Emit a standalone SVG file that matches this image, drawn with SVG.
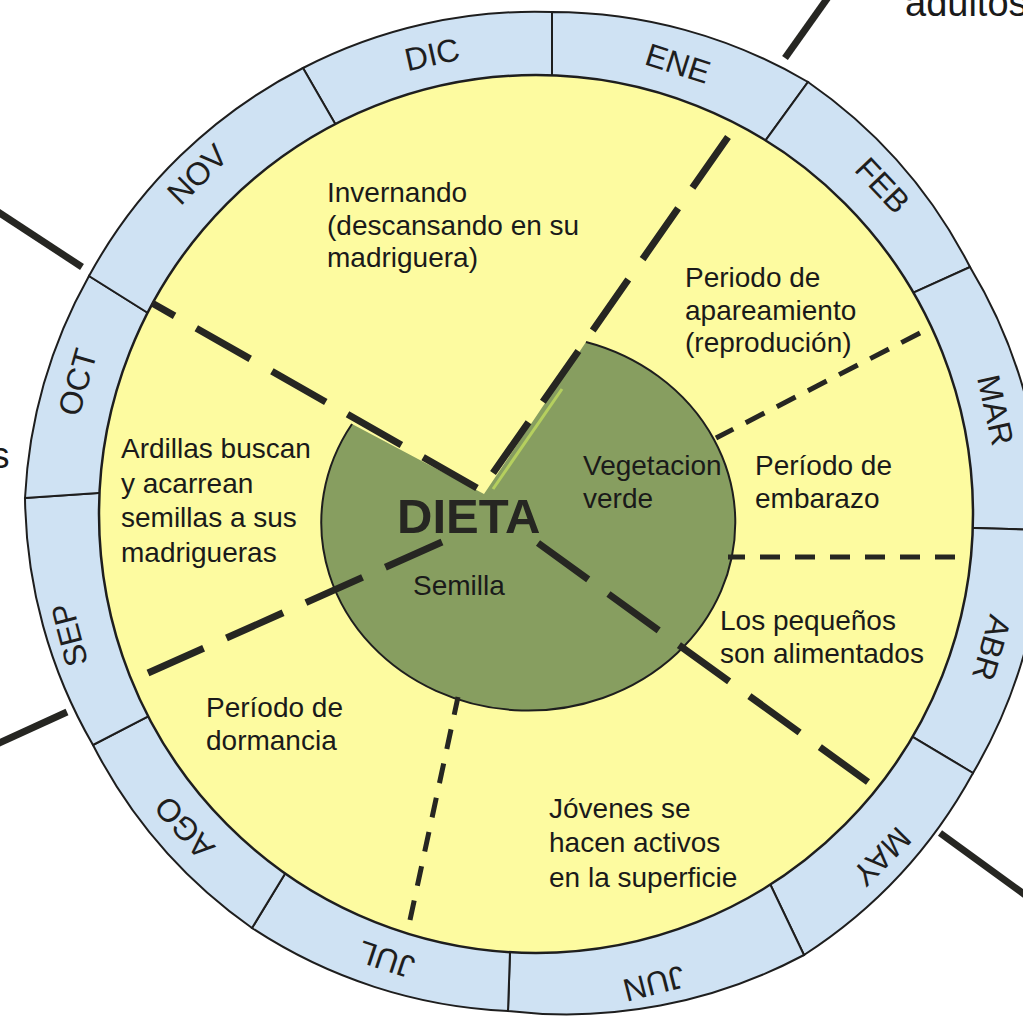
<svg xmlns="http://www.w3.org/2000/svg" width="1023" height="1016" viewBox="0 0 1023 1016">
<style>
.tile{fill:#cfe2f3;stroke:#1e1e1e;stroke-width:2;stroke-linejoin:miter}
.mon{font-family:"Liberation Sans",Arial,sans-serif;font-size:32px;fill:#1e1e1e;text-anchor:middle}
.lbl{font-family:"Liberation Sans",Arial,sans-serif;font-size:28px;fill:#1a1a1a}
.thick{stroke:#262622;stroke-width:7;stroke-dasharray:62 25;fill:none}
.thin{stroke:#262622;stroke-width:5;stroke-dasharray:20 15;fill:none}
.solid{stroke:#262622;stroke-width:7;fill:none}
</style>
<rect width="1023" height="1016" fill="#ffffff"/>

<g id="outside">
  <line class="solid" x1="785" y1="58" x2="829" y2="-4"/>
  <line class="solid" x1="-5" y1="210" x2="82" y2="267"/>
  <line class="solid" x1="-5" y1="745" x2="67" y2="712"/>
  <line class="solid" x1="940" y1="833" x2="1028" y2="897"/>
  <text class="lbl" x="905" y="15.5" style="font-size:38px">adultos</text>
  <text class="lbl" x="9.5" y="468" text-anchor="end" style="font-size:36px">s</text>
</g>

<g id="month-ring">
  <g id="month-dic"><path class="tile" d="M344.5 140 L303 68 A505 505 0 0 1 552 12 L552 90 Z"/><text class="mon" transform="translate(432,54) rotate(-12.5)" y="11.5">DIC</text></g>
  <g id="month-ene"><path class="tile" d="M552 90 L552 12 A505 505 0 0 1 808 82 L759.2 149.1 Z"/><text class="mon" transform="translate(678,63) rotate(17.7)" y="11.5">ENE</text></g>
  <g id="month-feb"><path class="tile" d="M759.2 149.1 L808 82 A505 505 0 0 1 970 267 L901.3 298.2 Z"/><text class="mon" transform="translate(883,185) rotate(46.8)" y="11.5">FEB</text></g>
  <g id="month-mar"><path class="tile" d="M901.3 298.2 L970 267 A505 505 0 0 1 1043 530 L957 527.6 Z"/><text class="mon" transform="translate(996,410) rotate(77.4)" y="11.5">MAR</text></g>
  <g id="month-abr"><path class="tile" d="M957 527.6 L1043 530 A505 505 0 0 1 973 773 L900.1 729.3 Z"/><text class="mon" transform="translate(992,648) rotate(106.4)" y="11.5">ABR</text></g>
  <g id="month-may"><path class="tile" d="M900.1 729.3 L973 773 A505 505 0 0 1 804 955 L766.5 876.5 Z"/><text class="mon" transform="translate(882,857) rotate(134.7)" y="11.5">MAY</text></g>
  <g id="month-jun"><path class="tile" d="M766.5 876.5 L804 955 A505 505 0 0 1 508 1011 L510.5 937 Z"/><text class="mon" transform="translate(654,984) rotate(165.7)" y="11.5">JUN</text></g>
  <g id="month-jul"><path class="tile" d="M510.5 937 L508 1011 A505 505 0 0 1 252 928 L290.8 864.2 Z"/><text class="mon" transform="translate(386,960) rotate(198.3)" y="11.5">JUL</text></g>
  <g id="month-ago"><path class="tile" d="M290.8 864.2 L252 928 A505 505 0 0 1 93 745 L160.3 710.1 Z"/><text class="mon" transform="translate(184,828) rotate(228)" y="11.5">AGO</text></g>
  <g id="month-sep"><path class="tile" d="M160.3 710.1 L93 745 A505 505 0 0 1 25 498 L113 492 Z"/><text class="mon" transform="translate(69,635) rotate(255.3)" y="11.5">SEP</text></g>
  <g id="month-oct"><path class="tile" d="M113 492 L25 498 A505 505 0 0 1 89 276 L160.7 321 Z"/><text class="mon" transform="translate(77,382) rotate(286)" y="11.5">OCT</text></g>
  <g id="month-nov"><path class="tile" d="M160.7 321 L89 276 A505 505 0 0 1 303 68 L344.5 140 Z"/><text class="mon" transform="translate(197,174) rotate(315.2)" y="11.5">NOV</text></g>
</g>

<g id="year-disc">
  <ellipse cx="536" cy="514" rx="437" ry="439" fill="#fdfba0" stroke="#1e1e1e" stroke-width="2.5"/>
</g>

<g id="diet-core">
  <path d="M484 494 L586 342 A207 188 0 1 1 352 424 Z" fill="#879e60"/>
  <path d="M586 342 A207 188 0 1 1 352 424" fill="none" stroke="#1e1e1e" stroke-width="2"/>
  <line x1="493" y1="489" x2="562" y2="389" stroke="#b5cf5e" stroke-width="3"/>
</g>

<g id="connectors">
  <line class="thick" x1="477" y1="488" x2="152" y2="303"/>
  <line class="thick" x1="493" y1="473" x2="728" y2="137"/>
  <line class="thick" x1="538" y1="543" x2="868" y2="782"/>
  <line class="thick" x1="442" y1="542" x2="148" y2="673"/>
  <line class="thin" x1="920" y1="333" x2="716" y2="438" style="stroke-dasharray:21 14"/>
  <line class="thin" x1="955" y1="557" x2="728" y2="557"/>
  <line class="thin" x1="410" y1="920" x2="458" y2="697"/>
</g>

<g id="node-dieta">
  <text x="397" y="533" style="font-family:'Liberation Sans',Arial,sans-serif;font-size:49px;font-weight:bold;fill:#262622">DIETA</text>
</g>
<g id="node-vegetacion">
  <text class="lbl" x="583" y="475">Vegetacion</text>
  <text class="lbl" x="583" y="508">verde</text>
</g>
<g id="node-semilla">
  <text class="lbl" x="413" y="595">Semilla</text>
</g>
<g id="node-invernando">
  <text class="lbl" x="327" y="202">Invernando</text>
  <text class="lbl" x="327" y="234.5">(descansando en su</text>
  <text class="lbl" x="327" y="267">madriguera)</text>
</g>
<g id="node-apareamiento">
  <text class="lbl" x="685" y="287">Periodo de</text>
  <text class="lbl" x="685" y="320">apareamiento</text>
  <text class="lbl" x="685" y="352">(reprodución)</text>
</g>
<g id="node-embarazo">
  <text class="lbl" x="755" y="475">Período de</text>
  <text class="lbl" x="755" y="508">embarazo</text>
</g>
<g id="node-pequenos">
  <text class="lbl" x="720" y="630">Los pequeños</text>
  <text class="lbl" x="720" y="663">son alimentados</text>
</g>
<g id="node-jovenes">
  <text class="lbl" x="549" y="818">Jóvenes se</text>
  <text class="lbl" x="549" y="852">hacen activos</text>
  <text class="lbl" x="549" y="887">en la superficie</text>
</g>
<g id="node-dormancia">
  <text class="lbl" x="206" y="717">Período de</text>
  <text class="lbl" x="206" y="750">dormancia</text>
</g>
<g id="node-ardillas">
  <text class="lbl" x="121" y="458">Ardillas buscan</text>
  <text class="lbl" x="121" y="493">y acarrean</text>
  <text class="lbl" x="121" y="527">semillas a sus</text>
  <text class="lbl" x="121" y="562">madrigueras</text>
</g>
</svg>
